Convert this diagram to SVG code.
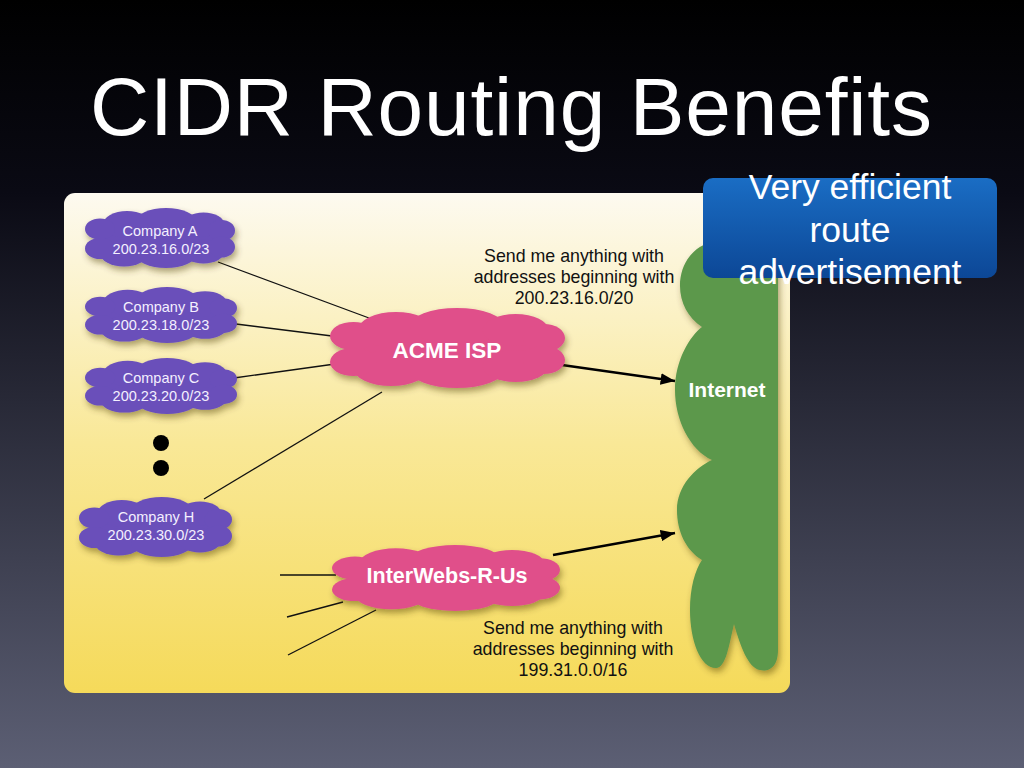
<svg xmlns="http://www.w3.org/2000/svg" xmlns:xlink="http://www.w3.org/1999/xlink" width="1024" height="768" viewBox="0 0 1024 768">
<style>
.title{font-family:"Liberation Sans",Arial,sans-serif;font-size:82px;fill:#ffffff}
.note{font-family:"Liberation Sans",Arial,sans-serif;font-size:35.5px;fill:#ffffff;text-anchor:middle}
.co{font-family:"Liberation Sans",Arial,sans-serif;font-size:14.5px;fill:#f4f0ff;text-anchor:middle}
.isp{font-family:"Liberation Sans",Arial,sans-serif;font-weight:bold;fill:#ffffff;text-anchor:middle}
.lbl{font-family:"Liberation Sans",Arial,sans-serif;font-size:17.8px;fill:#111111;text-anchor:middle}
.ln{stroke:#111;stroke-width:1.3;fill:none}
.arr{stroke:#000;stroke-width:2.4;fill:none;marker-end:url(#ah)}
</style>
<defs>
<linearGradient id="bg" x1="0" y1="0" x2="0" y2="1">
<stop offset="0" stop-color="#000000"/>
<stop offset="0.25" stop-color="#0a0a14"/>
<stop offset="1" stop-color="#5c5f74"/>
</linearGradient>
<linearGradient id="panel" x1="0" y1="0" x2="0" y2="1">
<stop offset="0" stop-color="#fdfaf0"/>
<stop offset="0.5" stop-color="#f9e897"/>
<stop offset="1" stop-color="#f5da5a"/>
</linearGradient>
<linearGradient id="blue" x1="0" y1="0" x2="0" y2="1">
<stop offset="0" stop-color="#1a6dc4"/>
<stop offset="1" stop-color="#0c4796"/>
</linearGradient>
<filter id="sh" x="-20%" y="-20%" width="150%" height="160%">
<feDropShadow dx="2" dy="4" stdDeviation="3" flood-color="#4a3a00" flood-opacity="0.45"/>
</filter>
<symbol id="cloud" viewBox="0 0 100 40" preserveAspectRatio="none">
<ellipse cx="50" cy="20" rx="40" ry="14"/>
<ellipse cx="28" cy="11" rx="16" ry="9"/>
<ellipse cx="54" cy="9" rx="20" ry="9"/>
<ellipse cx="79" cy="11" rx="14" ry="8"/>
<ellipse cx="26" cy="30" rx="16" ry="9"/>
<ellipse cx="54" cy="31" rx="20" ry="9"/>
<ellipse cx="79" cy="29" rx="14" ry="8"/>
<ellipse cx="10" cy="14" rx="10" ry="7"/>
<ellipse cx="10" cy="27" rx="10" ry="7"/>
<ellipse cx="91" cy="15" rx="9" ry="7"/>
<ellipse cx="91" cy="26" rx="9" ry="7"/>
</symbol>
<marker id="ah" viewBox="0 0 10 8" refX="10" refY="4" markerWidth="6" markerHeight="5" orient="auto" markerUnits="strokeWidth">
<path d="M0,0 L10,4 L0,8 Z" fill="#000"/>
</marker>
</defs>
<rect x="0" y="0" width="1024" height="768" fill="url(#bg)"/>
<text class="title" x="90" y="135" textLength="842">CIDR Routing Benefits</text>
<rect x="64" y="193" width="726" height="500" rx="11" fill="url(#panel)"/>

<g id="internet">
<path filter="url(#sh)" fill="#5b984b" d="M710,243 L778,243 L778,650 C778,668 768,672 760,670 C748,668 740,645 734,624 C729,645 726,668 716,668 C700,668 690,640 690,610 C690,588 695,570 702,560 C686,550 677,532 677,510 C677,486 695,468 712,460 C690,450 675,420 675,390 C675,360 690,336 702,327 C688,318 680,302 680,286 C680,262 695,246 710,243 Z"/>
<text class="isp" x="727" y="397" font-size="21">Internet</text>
</g>

<g id="connectors">
<line class="ln" x1="218" y1="262" x2="369" y2="318"/>
<line class="ln" x1="236" y1="324" x2="332" y2="336"/>
<line class="ln" x1="234" y1="378" x2="335" y2="364"/>
<line class="ln" x1="204" y1="499" x2="382" y2="392"/>
<line class="ln" x1="280" y1="575" x2="336" y2="575"/>
<line class="ln" x1="287" y1="617" x2="343" y2="602"/>
<line class="ln" x1="288" y1="655" x2="376" y2="610"/>
<line class="arr" x1="562" y1="365" x2="675" y2="381"/>
<line class="arr" x1="553" y1="555" x2="675" y2="533"/>
</g>

<g id="companyA">
<use href="#cloud" x="85" y="208" width="150" height="60" fill="#6a50ba" filter="url(#sh)"/>
<text class="co" x="160" y="236">Company A</text>
<text class="co" x="161" y="254">200.23.16.0/23</text>
</g>
<g id="companyB">
<use href="#cloud" x="85" y="287" width="152" height="56" fill="#6a50ba" filter="url(#sh)"/>
<text class="co" x="161" y="312">Company B</text>
<text class="co" x="161" y="330">200.23.18.0/23</text>
</g>
<g id="companyC">
<use href="#cloud" x="85" y="358" width="152" height="56" fill="#6a50ba" filter="url(#sh)"/>
<text class="co" x="161" y="383">Company C</text>
<text class="co" x="161" y="401">200.23.20.0/23</text>
</g>
<g id="dots">
<circle cx="161" cy="443" r="8" fill="#000"/>
<circle cx="161" cy="468" r="8" fill="#000"/>
</g>
<g id="companyH">
<use href="#cloud" x="79" y="497" width="153" height="60" fill="#6a50ba" filter="url(#sh)"/>
<text class="co" x="156" y="522">Company H</text>
<text class="co" x="156" y="540">200.23.30.0/23</text>
</g>

<g id="acme">
<use href="#cloud" x="330" y="308" width="235" height="80" fill="#e0508a" filter="url(#sh)"/>
<text class="isp" x="447" y="358" font-size="22.5">ACME ISP</text>
</g>
<g id="interwebs">
<use href="#cloud" x="332" y="545" width="228" height="66" fill="#e0508a" filter="url(#sh)"/>
<text class="isp" x="447" y="583" font-size="21.5">InterWebs-R-Us</text>
</g>

<g id="label-acme">
<text class="lbl" x="574" y="262">Send me anything with</text>
<text class="lbl" x="574" y="283">addresses beginning with</text>
<text class="lbl" x="574" y="304">200.23.16.0/20</text>
</g>
<g id="label-interwebs">
<text class="lbl" x="573" y="634">Send me anything with</text>
<text class="lbl" x="573" y="655">addresses beginning with</text>
<text class="lbl" x="573" y="676">199.31.0.0/16</text>
</g>

<g id="callout">
<rect x="703" y="178" width="294" height="100" rx="10" fill="url(#blue)"/>
<text class="note" x="850" y="199">Very efficient</text>
<text class="note" x="850" y="242">route</text>
<text class="note" x="850" y="284">advertisement</text>
</g>
</svg>
